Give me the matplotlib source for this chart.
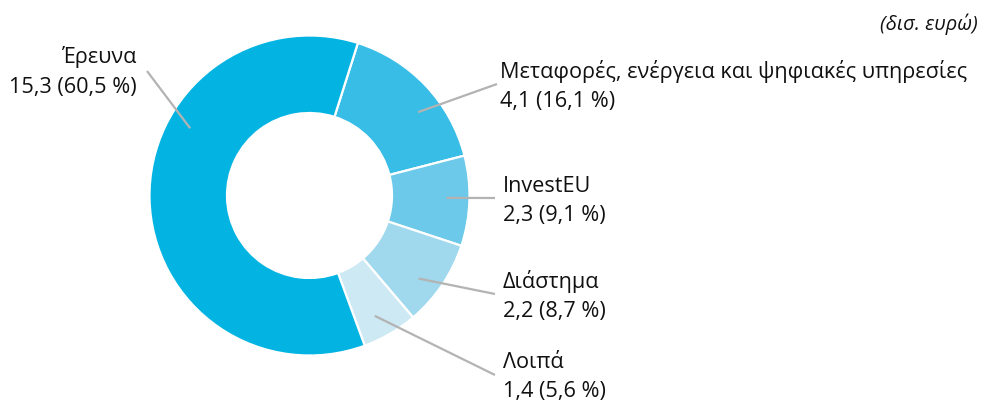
import matplotlib
matplotlib.use("Agg")
import matplotlib.pyplot as plt
import numpy as np

# Δεδομένα (δισ. ευρώ)
categories = ["Μεταφορές, ενέργεια και ψηφιακές υπηρεσίες", "InvestEU",
              "Διάστημα", "Λοιπά", "Έρευνα"]
amounts = [4.1, 2.3, 2.2, 1.4, 15.3]
shares = [16.1, 9.1, 8.7, 5.6, 60.5]
colors = ["#38bde6", "#6cc9e9", "#a0d8ee", "#cde9f4", "#03b4e2"]

W, H = 989, 401
plt.rcParams['font.family'] = ['Open Sans', 'DejaVu Sans']

fig = plt.figure(figsize=(W / 100, H / 100), dpi=100)
ax = fig.add_axes([0, 0, 1, 1])

cx, cy, R = 309.5, H - 195.5, 160
wedges, _ = ax.pie(shares, colors=colors, startangle=72.4, counterclock=False,
                   center=(cx, cy), radius=R, frame=True,
                   wedgeprops=dict(width=R - 82.5, edgecolor='white', linewidth=1.6))
ax.set_xlim(0, W)
ax.set_ylim(0, H)
ax.set_aspect('equal')
ax.axis('off')

def fmt(v):
    return f"{v:.1f}".replace(".", ",")

# θέσεις ετικετών (x, baseline πρώτης γραμμής, στοίχιση), άκρο γραμμής, γωνία στον δακτύλιο
label_pos = [(500, 78, 'left'), (503, 192, 'left'), (503, 288, 'left'),
             (503, 368, 'left'), (137, 63, 'right')]
line_end = [(497, 84), (495, 198), (495, 294), (495, 375), (147, 71)]
anchor_ang = [37.5, -1.0, -37.3, -61.5, 150.6]

fs = 15.6
for i, w in enumerate(wedges):
    x, yb, ha = label_pos[i]
    ax.text(x, H - yb, categories[i], ha=ha, va='baseline', fontsize=fs, color='#111111')
    ax.text(x, H - yb - 29.5, f"{fmt(amounts[i])} ({fmt(shares[i])} %)", ha=ha,
            va='baseline', fontsize=fs, color='#111111')
    r0 = 137
    x0 = cx + r0 * np.cos(np.radians(anchor_ang[i]))
    y0 = cy + r0 * np.sin(np.radians(anchor_ang[i]))
    ex, ey = line_end[i]
    ax.plot([x0, ex], [y0, H - ey], color='#b3b3b3', lw=1.6, solid_capstyle='butt')

ax.text(978, H - 30, "(δισ. ευρώ)", ha='right', va='baseline', fontsize=14.5,
        style='italic', color='#111111')

fig.savefig("out.png", dpi=100)
